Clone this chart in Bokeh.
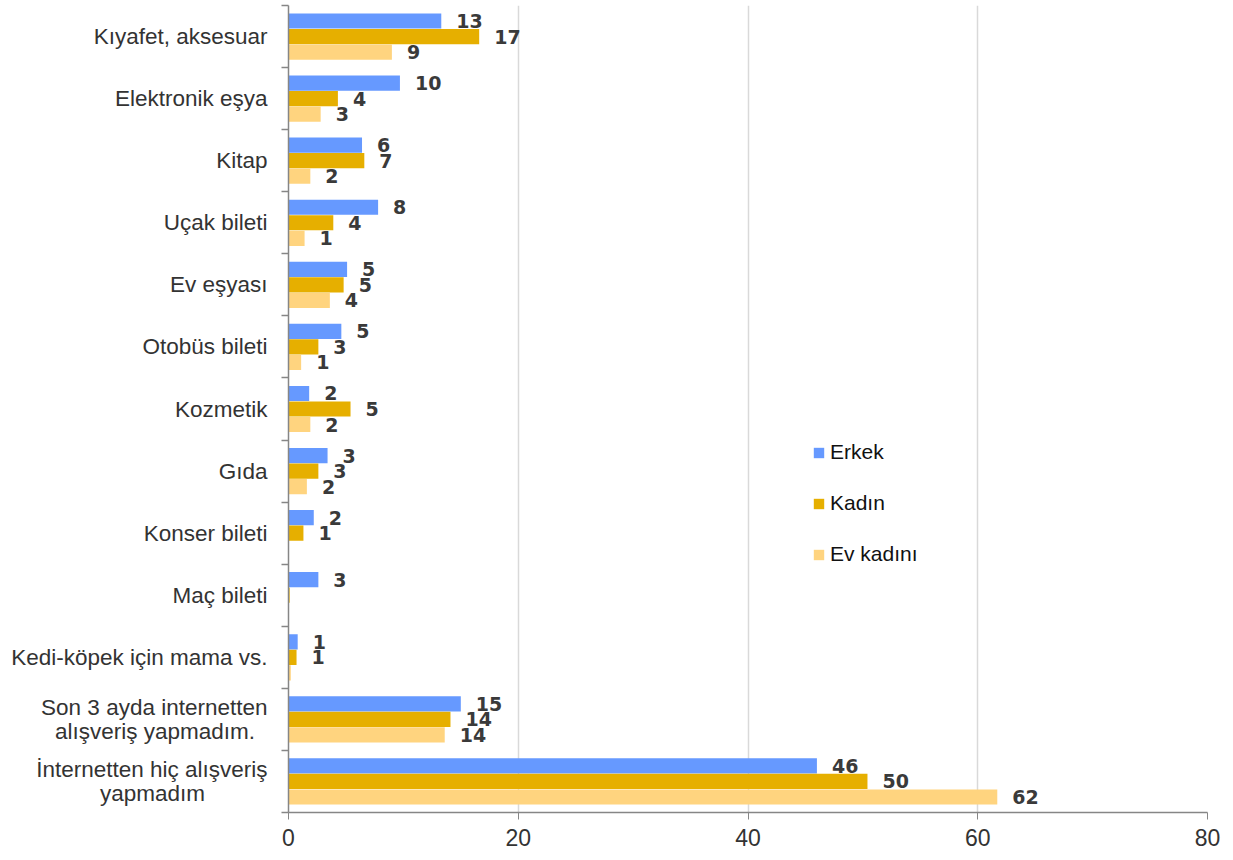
from bokeh.plotting import figure
from bokeh.models import Range1d, FixedTicker, Legend, LegendItem, ColumnDataSource
from bokeh.embed import file_html
from bokeh.resources import INLINE
from bokeh.core.properties import value

categories = [
    "Kıyafet, aksesuar",
    "Elektronik eşya",
    "Kitap",
    "Uçak bileti",
    "Ev eşyası",
    "Otobüs bileti",
    "Kozmetik",
    "Gıda",
    "Konser bileti",
    "Maç bileti",
    "Kedi-köpek için mama vs.",
    "Son 3 ayda internetten\nalışveriş yapmadım.",
    "İnternetten hiç alışveriş\nyapmadım",
]
erkek = [13.3, 9.7, 6.4, 7.8, 5.1, 4.6, 1.8, 3.4, 2.2, 2.6, 0.8, 15.0, 46.0]
kadin = [16.6, 4.3, 6.6, 3.9, 4.8, 2.6, 5.4, 2.6, 1.3, 0.1, 0.7, 14.1, 50.4]
ev_kadini = [9.0, 2.8, 1.9, 1.4, 3.6, 1.1, 1.9, 1.6, 0.0, 0.0, 0.2, 13.6, 61.7]
series_names = ["Erkek", "Kadın", "Ev kadını"]
series_values = [erkek, kadin, ev_kadini]
colors = ["#6699FF", "#E6AF00", "#FFD47F"]
x_ticks = [0, 20, 40, 60, 80]

# centre the lines of two-line category labels (Excel centres them):
# approximate advance widths (1/1000 em) of Liberation Sans glyphs
NBSP = "\u00a0"
_w = {" ": 278, ".": 278, ",": 278, "-": 333, "i": 222, "ı": 222, "l": 222, "j": 222,
      "f": 278, "t": 278, "r": 333, "c": 500, "ç": 500, "k": 500, "s": 500, "ş": 500,
      "v": 500, "y": 500, "z": 500, "m": 833, "İ": 278, "I": 278, "S": 667, "K": 667}
def _width(s):
    return sum(_w.get(ch, 556) for ch in s)

def centred(label):
    lines = label.split("\n")
    if len(lines) == 1:
        return label
    longest = max(_width(l) for l in lines)
    return "\n".join(l + NBSP * int(round((longest - _width(l)) / 2 / 278)) for l in lines)

n = len(categories)
p = figure(width=1233, height=855, output_backend="svg", toolbar_location=None,
           x_range=Range1d(0, 80), y_range=Range1d(n, 0),
           min_border_left=288, min_border_right=26, min_border_top=5, min_border_bottom=43)
p.outline_line_color = None
p.background_fill_color = "white"

offsets = [-0.25, 0.0, 0.25]
items = []
for k, (name, vals, col) in enumerate(zip(series_names, series_values, colors)):
    ys = [i + 0.5 + offsets[k] for i in range(n)]
    lbls = [str(int(v + 0.5)) if v >= 0.5 else "" for v in vals]
    src = ColumnDataSource(dict(y=ys, v=vals, lbl=lbls))
    r = p.hbar(y="y", left=0, right="v", height=0.245, fill_color=col, line_color=None, source=src)
    p.text(x="v", y="y", text="lbl", source=src, x_offset=15, text_align="left",
           text_baseline="middle", text_font=value("DejaVu Sans"), text_font_style="bold",
           text_font_size="19px", text_color="#3a3a3a")
    items.append(LegendItem(label=name, renderers=[r]))

legend = Legend(items=items, location=(524, 246), orientation="vertical", spacing=27,
                glyph_width=13, glyph_height=13, label_height=20, padding=0, margin=0,
                border_line_color=None, background_fill_alpha=0,
                label_text_font="Liberation Sans", label_text_font_size="21px",
                label_text_color="#111111", label_standoff=5)
p.add_layout(legend)

# x axis
p.xaxis.ticker = FixedTicker(ticks=x_ticks)
p.xaxis.axis_line_color = "#868686"
p.xaxis.axis_line_width = 1.5
p.xaxis.major_tick_line_color = "#868686"
p.xaxis.major_tick_out = 7
p.xaxis.major_tick_in = 0
p.xaxis.minor_tick_line_color = None
p.xaxis.major_label_text_font = "Liberation Sans"
p.xaxis.major_label_text_font_size = "23px"
p.xaxis.major_label_text_color = "#333333"
p.xaxis.major_label_standoff = 9

# y axis
p.yaxis.ticker = FixedTicker(ticks=[i + 0.5 for i in range(n)], minor_ticks=list(range(n + 1)))
p.yaxis.major_label_overrides = {i + 0.5: centred(c) for i, c in enumerate(categories)}
p.yaxis.axis_line_color = "#868686"
p.yaxis.axis_line_width = 1.5
p.yaxis.major_tick_line_color = None
p.yaxis.major_tick_out = 0
p.yaxis.major_tick_in = 0
p.yaxis.minor_tick_line_color = "#868686"
p.yaxis.minor_tick_line_width = 1.5
p.yaxis.minor_tick_out = 7
p.yaxis.minor_tick_in = 0
p.yaxis.major_label_text_font = "Liberation Sans"
p.yaxis.major_label_text_font_size = "22.5px"
p.yaxis.major_label_text_line_height = 0.95
p.yaxis.major_label_text_color = "#333333"
p.yaxis.major_label_standoff = 14

p.ygrid.visible = False
p.xgrid.ticker = FixedTicker(ticks=x_ticks[1:])
p.xgrid.grid_line_color = "#D9D9D9"
p.xgrid.grid_line_width = 1.5

open("out.html", "w").write(file_html(p, INLINE))
